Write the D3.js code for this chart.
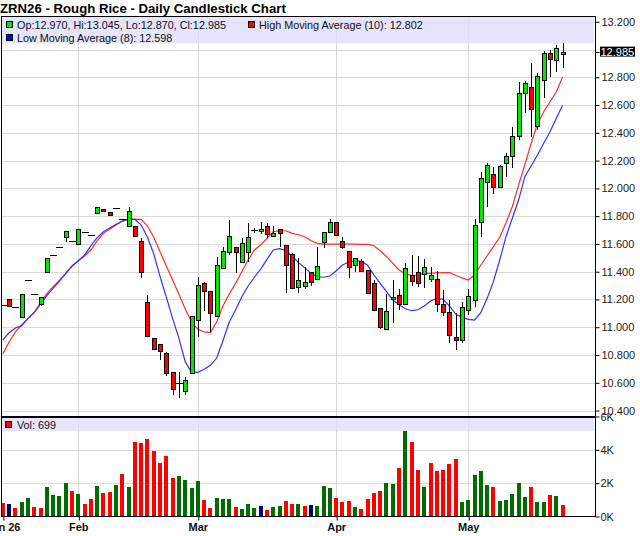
<!DOCTYPE html>
<html><head><meta charset="utf-8">
<script src="https://cdn.jsdelivr.net/npm/d3@7"></script>
<style>html,body{margin:0;padding:0;background:#fff;}svg{display:block;font-family:"Liberation Sans",Arial,sans-serif;}</style>
</head><body><svg id="c" width="640" height="536"></svg>
<script>
const title = "ZRN26 - Rough Rice - Daily Candlestick Chart";
const dates = [
"2026-01-14","2026-01-15","2026-01-16","2026-01-20","2026-01-21","2026-01-22","2026-01-23","2026-01-26","2026-01-27","2026-01-28","2026-01-29","2026-01-30",
"2026-02-02","2026-02-03","2026-02-04","2026-02-05","2026-02-06","2026-02-09","2026-02-10","2026-02-11","2026-02-12","2026-02-13",
"2026-02-17","2026-02-18","2026-02-19","2026-02-20","2026-02-23","2026-02-24","2026-02-25","2026-02-26","2026-02-27","2026-03-02",
"2026-03-03","2026-03-04","2026-03-05","2026-03-06","2026-03-09","2026-03-10","2026-03-11","2026-03-12","2026-03-13","2026-03-16",
"2026-03-17","2026-03-18","2026-03-19","2026-03-20","2026-03-23","2026-03-24","2026-03-25","2026-03-26","2026-03-27","2026-03-30",
"2026-03-31","2026-04-01","2026-04-02","2026-04-06","2026-04-07","2026-04-08","2026-04-09","2026-04-10","2026-04-13","2026-04-14",
"2026-04-15","2026-04-16","2026-04-17","2026-04-20","2026-04-21","2026-04-22","2026-04-23","2026-04-24","2026-04-27","2026-04-28",
"2026-04-29","2026-04-30","2026-05-01","2026-05-04","2026-05-05","2026-05-06","2026-05-07","2026-05-08","2026-05-11","2026-05-12",
"2026-05-13","2026-05-14","2026-05-15","2026-05-18","2026-05-19","2026-05-20","2026-05-21","2026-05-22"];
const opens = [
11.160,11.203,11.143,11.071,11.340,11.237,11.165,11.396,11.518,11.578,11.648,11.619,
11.597,11.684,11.662,11.821,11.849,11.828,11.857,11.779,11.727,11.727,
11.621,11.180,10.920,10.879,10.812,10.675,10.596,10.543,10.673,11.050,
11.316,11.259,11.076,11.424,11.540,11.576,11.475,11.540,11.702,11.688,
11.729,11.652,11.705,11.590,11.525,11.287,11.297,11.396,11.345,11.612,
11.684,11.756,11.623,11.547,11.448,11.477,11.412,11.316,11.136,10.985,
11.205,11.230,11.165,11.374,11.396,11.388,11.345,11.345,11.165,11.112,
10.932,10.913,11.124,11.196,11.756,12.051,12.101,12.012,12.181,12.235,
12.372,12.685,12.732,12.451,12.776,12.973,12.920,12.970];
const highs = [
11.160,11.203,11.143,11.237,11.340,11.237,11.216,11.496,11.518,11.578,11.693,11.619,
11.705,11.684,11.662,11.864,11.849,11.828,11.857,11.779,11.868,11.727,
11.640,11.232,10.920,10.879,10.824,10.675,10.675,10.644,11.081,11.364,
11.328,11.259,11.508,11.580,11.772,11.576,11.640,11.753,11.712,11.756,
11.748,11.731,11.705,11.590,11.535,11.496,11.436,11.396,11.580,11.686,
11.780,11.756,11.647,11.547,11.496,11.489,11.412,11.340,11.136,11.239,
11.340,11.273,11.460,11.520,11.513,11.489,11.436,11.403,11.268,11.196,
11.100,11.184,11.273,11.777,12.116,12.181,12.156,12.168,12.253,12.444,
12.764,12.773,12.901,12.829,12.992,12.997,13.033,13.045];
const lows = [
11.160,11.155,11.143,11.071,11.340,11.237,11.153,11.396,11.518,11.578,11.616,11.619,
11.597,11.684,11.662,11.821,11.832,11.806,11.857,11.779,11.727,11.655,
11.357,10.935,10.841,10.764,10.649,10.512,10.488,10.512,10.673,10.928,
11.119,10.968,11.076,11.424,11.520,11.393,11.475,11.472,11.677,11.672,
11.640,11.652,11.580,11.244,11.280,11.244,11.273,11.297,11.345,11.569,
11.684,11.662,11.566,11.357,11.400,11.405,11.244,11.124,10.985,10.980,
11.028,11.124,11.165,11.297,11.290,11.280,11.324,11.112,11.081,10.884,
10.836,10.889,11.088,11.144,11.652,11.868,11.957,12.000,12.084,12.145,
12.348,12.545,12.372,12.420,12.649,12.804,12.840,12.870];
const closes = [
11.160,11.155,11.143,11.237,11.340,11.237,11.216,11.496,11.518,11.578,11.693,11.619,
11.705,11.684,11.662,11.864,11.832,11.806,11.857,11.779,11.835,11.655,
11.396,10.935,10.841,10.831,10.668,10.553,10.596,10.620,11.081,11.302,
11.261,11.100,11.446,11.549,11.657,11.540,11.609,11.648,11.702,11.705,
11.671,11.676,11.676,11.446,11.280,11.340,11.324,11.324,11.441,11.686,
11.756,11.662,11.578,11.432,11.496,11.405,11.244,11.124,10.997,11.117,
11.219,11.165,11.424,11.328,11.316,11.436,11.374,11.167,11.105,10.949,
10.908,11.148,11.227,11.734,12.073,12.171,12.010,12.161,12.233,12.377,
12.685,12.757,12.570,12.812,12.973,12.930,13.009,12.985];
const highMA10 = [
10.807,10.894,10.966,11.016,11.062,11.108,11.177,11.242,11.292,11.338,11.386,11.439,
11.479,11.513,11.556,11.623,11.676,11.705,11.736,11.763,11.777,11.779,
11.777,11.729,11.648,11.544,11.441,11.340,11.237,11.131,11.040,10.985,
10.966,10.961,11.038,11.153,11.239,11.316,11.400,11.484,11.556,11.592,
11.640,11.688,11.695,11.695,11.676,11.666,11.652,11.623,11.604,11.599,
11.599,11.599,11.599,11.599,11.599,11.597,11.597,11.587,11.551,11.508,
11.460,11.412,11.383,11.374,11.376,11.388,11.388,11.391,11.393,11.393,
11.374,11.355,11.340,11.376,11.448,11.515,11.580,11.648,11.753,11.868,
12.024,12.173,12.325,12.464,12.552,12.624,12.696,12.802];
const lowMA8 = [
10.908,10.961,10.994,11.011,11.064,11.105,11.167,11.227,11.280,11.333,11.388,11.441,
11.479,11.520,11.587,11.645,11.688,11.715,11.741,11.765,11.777,11.777,
11.736,11.648,11.527,11.364,11.216,11.064,10.920,10.752,10.675,10.675,
10.697,10.726,10.778,10.903,11.038,11.124,11.220,11.297,11.360,11.419,
11.489,11.556,11.566,11.551,11.513,11.465,11.429,11.388,11.364,11.360,
11.369,11.407,11.448,11.470,11.477,11.477,11.446,11.376,11.316,11.256,
11.196,11.162,11.133,11.119,11.126,11.153,11.189,11.208,11.201,11.153,
11.095,11.071,11.057,11.052,11.105,11.208,11.328,11.484,11.652,11.785,
11.916,12.084,12.161,12.240,12.325,12.408,12.505,12.598];
const volumes = [
840,762,540,882,1122,600,540,1782,1302,1242,2022,1542,
1362,762,1080,1842,1422,1482,1902,2562,1782,4482,
4422,4662,3942,3222,3642,2322,2442,2202,1722,2142,
1002,540,1122,1062,1062,582,462,762,540,642,
402,582,642,942,762,762,642,702,642,1842,
1722,1122,882,942,582,462,1062,1422,1542,2022,
1962,2922,5142,4500,2802,1782,3222,2742,2802,3162,
3462,882,1002,2502,2742,1902,1782,942,1002,1362,
2022,1182,1782,882,882,1302,1242,699];
const volDir = [
"d","n","d","u","u","d","d","u","u","u","u","d",
"u","d","d","u","d","d","u","d","u","d",
"d","d","d","d","d","d","u","u","u","u",
"d","d","u","u","u","d","u","u","u","n",
"d","u","u","d","d","u","d","n","u","u",
"u","d","d","d","u","d","d","d","d","u",
"u","d","u","d","d","u","d","d","d","d",
"d","u","u","u","u","u","d","u","u","u",
"u","u","d","u","u","d","u","d"];
const priceTicks = [10.4,10.6,10.8,11.0,11.2,11.4,11.6,11.8,12.0,12.2,12.4,12.6,12.8,13.0,13.2];
const volTicks = [0,2000,4000,6000];
const volTickLabels = ["0K","2K","4K","6K"];
const legendMain = {ohlc:"Op:12.970, Hi:13.045, Lo:12.870, Cl:12.985", hma:"High Moving Average (10): 12.802", lma:"Low Moving Average (8): 12.598", vol:"Vol: 699"};

const parse = d3.timeParse("%Y-%m-%d");
const data = dates.map((d,i)=>({i, date:parse(d), o:opens[i], h:highs[i], l:lows[i], c:closes[i], v:volumes[i], vd:volDir[i], hma:highMA10[i], lma:lowMA8[i]}));
const n = data.length;

const svg = d3.select("#c");
const L = 1.5, R = 595.5, PT = 16, PB = 416.7, VT = 416.5, VB = 516.5;
const x = d3.scaleLinear().domain([-0.21, n - 1 + 5.15]).range([L, 595]);
const y = d3.scaleLinear().domain([10.3556, 13.2415]).range([PB, PT]);
const yv = d3.scaleLinear().domain([0, 6000]).range([VB, VT]);

const GRID = "#d9d9d9";
const monthStarts = data.filter((d,k)=> k===0 || d.date.getMonth() !== data[k-1].date.getMonth());
const fmtFirst = d3.timeFormat("%b %y"), fmtMonth = d3.timeFormat("%b");

svg.append("rect").attr("width",640).attr("height",536).attr("fill","#fff");

// grid
const g = svg.append("g").attr("shape-rendering","crispEdges");
g.selectAll(".hg").data(priceTicks).join("line")
  .attr("x1",L).attr("x2",R).attr("y1",d=>Math.round(y(d))+0.5).attr("y2",d=>Math.round(y(d))+0.5)
  .attr("stroke",GRID);
g.selectAll(".vg").data(volTicks.slice(1,3)).join("line")
  .attr("x1",L).attr("x2",R).attr("y1",d=>Math.round(yv(d))+0.5).attr("y2",d=>Math.round(yv(d))+0.5)
  .attr("stroke",GRID);
g.selectAll(".mg").data(monthStarts.slice(1)).join("line")
  .attr("x1",d=>Math.round(x(d.i))+0.5).attr("x2",d=>Math.round(x(d.i))+0.5)
  .attr("y1",PT).attr("y2",VB).attr("stroke",GRID);

// legend bands
svg.append("rect").attr("x",2).attr("y",16.5).attr("width",592).attr("height",27)
  .attr("fill","#dcdcfa").attr("opacity",0.75);
svg.append("rect").attr("x",2).attr("y",418).attr("width",592).attr("height",13)
  .attr("fill","#dcdcfa").attr("opacity",0.75);

// clip
svg.append("clipPath").attr("id","pc").append("rect").attr("x",L).attr("y",PT).attr("width",R-L).attr("height",PB-PT);
svg.append("clipPath").attr("id","vc").append("rect").attr("x",L).attr("y",VT).attr("width",R-L).attr("height",VB-VT);

// moving averages
const line = (key)=>d3.line().x(d=>x(d.i)).y(d=>y(d[key]));
const mg = svg.append("g").attr("clip-path","url(#pc)");
mg.append("path").datum(data).attr("d",line("hma")).attr("fill","none").attr("stroke","#ff2a2a").attr("stroke-width",1.2);
mg.append("path").datum(data).attr("d",line("lma")).attr("fill","none").attr("stroke","#3232ff").attr("stroke-width",1.2);

// candles
const cg = svg.append("g").attr("clip-path","url(#pc)").attr("shape-rendering","crispEdges");
const cx = d=>Math.round(x(d.i));
cg.selectAll(".wick").data(data.filter(d=>d.h-d.l>0.001)).join("line")
  .attr("x1",d=>cx(d)+0.5).attr("x2",d=>cx(d)+0.5)
  .attr("y1",d=>y(d.h)).attr("y2",d=>y(d.l)).attr("stroke","#000");
const bodies = data.filter(d=>Math.abs(d.c-d.o)>0.004);
const dojis = data.filter(d=>Math.abs(d.c-d.o)<=0.004);
cg.selectAll(".body").data(bodies).join("rect")
  .attr("x",d=>cx(d)-2+0.5).attr("width",4)
  .attr("y",d=>Math.round(y(Math.max(d.o,d.c)))+0.5)
  .attr("height",d=>Math.max(1,Math.round(y(Math.min(d.o,d.c))-y(Math.max(d.o,d.c)))))
  .attr("fill",d=>d.c>=d.o?"#00e800":"#ff0000").attr("stroke","#000");
cg.selectAll(".doji").data(dojis).join("line")
  .attr("x1",d=>cx(d)-3).attr("x2",d=>cx(d)+4)
  .attr("y1",d=>Math.round(y(d.c))+0.5).attr("y2",d=>Math.round(y(d.c))+0.5).attr("stroke","#000");

// volume
const vcol = {u:"#006c00", d:"#ff0000", n:"#000070"};
svg.append("g").attr("clip-path","url(#vc)").attr("shape-rendering","crispEdges")
  .selectAll("rect").data(data).join("rect")
  .attr("x",d=>cx(d)-2).attr("width",4)
  .attr("y",d=>yv(d.v)).attr("height",d=>VB-yv(d.v))
  .attr("fill",d=>vcol[d.vd]);

// frame lines
const fr = svg.append("g").attr("shape-rendering","crispEdges").attr("stroke","#000");
fr.append("line").attr("x1",1).attr("x2",R).attr("y1",16.5).attr("y2",16.5);
fr.append("line").attr("x1",1.5).attr("x2",1.5).attr("y1",16).attr("y2",VB+0.5);
fr.append("line").attr("x1",R).attr("x2",R).attr("y1",16).attr("y2",VB+0.5);
fr.append("line").attr("x1",1).attr("x2",R).attr("y1",417).attr("y2",417).attr("stroke-width",2);
fr.append("line").attr("x1",1).attr("x2",R+0.5).attr("y1",VB).attr("y2",VB);

// price axis
const last = data[n-1];
const pAxis = d3.axisRight(y).tickValues(priceTicks.filter(t=>Math.abs(y(t)-y(last.c))>8))
  .tickSize(4).tickPadding(2).tickFormat(d3.format(".3f"));
const pa = svg.append("g").attr("transform",`translate(${R},0)`).call(pAxis);
pa.select(".domain").remove();
pa.selectAll("text").attr("font-size",11).attr("fill","#222").attr("font-family","Liberation Sans, Arial");
pa.selectAll("line").attr("stroke","#000");
// current price box
const lb = svg.append("g");
lb.append("rect").attr("x",600).attr("y",y(last.c)-5).attr("width",35).attr("height",10).attr("fill","#000");
lb.append("text").attr("x",600.5).attr("y",y(last.c)).attr("dy","0.36em").attr("font-size",11).attr("fill","#fff").text(d3.format(".3f")(last.c));
svg.append("line").attr("x1",R).attr("x2",R+4).attr("y1",Math.round(y(last.c))+0.5).attr("y2",Math.round(y(last.c))+0.5).attr("stroke","#000");

// volume axis
const vAxis = d3.axisRight(yv).tickValues(volTicks).tickSize(4).tickPadding(1).tickFormat((d,k)=>volTickLabels[k]);
const va = svg.append("g").attr("transform",`translate(${R},0)`).call(vAxis);
va.select(".domain").remove();
va.selectAll("text").attr("font-size",11).attr("fill","#222").attr("font-family","Liberation Sans, Arial");
va.selectAll("line").attr("stroke","#000");

// x axis
const xAxis = d3.axisBottom(x).tickValues(monthStarts.map(d=>d.i)).tickSize(4).tickPadding(3)
  .tickFormat((v,k)=> k===0 ? fmtFirst(data[v].date) : fmtMonth(data[v].date));
const xa = svg.append("g").attr("transform",`translate(0,${VB})`).call(xAxis);
xa.select(".domain").remove();
xa.selectAll("line").attr("stroke","#000").attr("x1",0.5).attr("x2",0.5);
xa.selectAll("text").attr("font-size",11).attr("font-weight","bold").attr("fill","#111").attr("font-family","Liberation Sans, Arial");

// title
svg.append("text").attr("x",0).attr("y",13).attr("font-size",13.2).attr("font-weight","bold").attr("fill","#000").text(title);

// legends
const leg = svg.append("g").attr("font-size",10.8).attr("fill","#111");
function sw(xx,yy,col){ leg.append("rect").attr("x",xx+0.5).attr("y",yy+0.5).attr("width",6).attr("height",6).attr("fill",col).attr("stroke","#000").attr("shape-rendering","crispEdges"); }
sw(6,21,"#00e800"); leg.append("text").attr("x",17).attr("y",28.5).text(legendMain.ohlc);
sw(248,21,"#ff0000"); leg.append("text").attr("x",259).attr("y",28.5).text(legendMain.hma);
sw(6,34,"#0000ff"); leg.append("text").attr("x",17).attr("y",41.5).text(legendMain.lma);
sw(5,421,"#ff0000"); leg.append("text").attr("x",17).attr("y",428.5).text(legendMain.vol);
</script></body></html>
